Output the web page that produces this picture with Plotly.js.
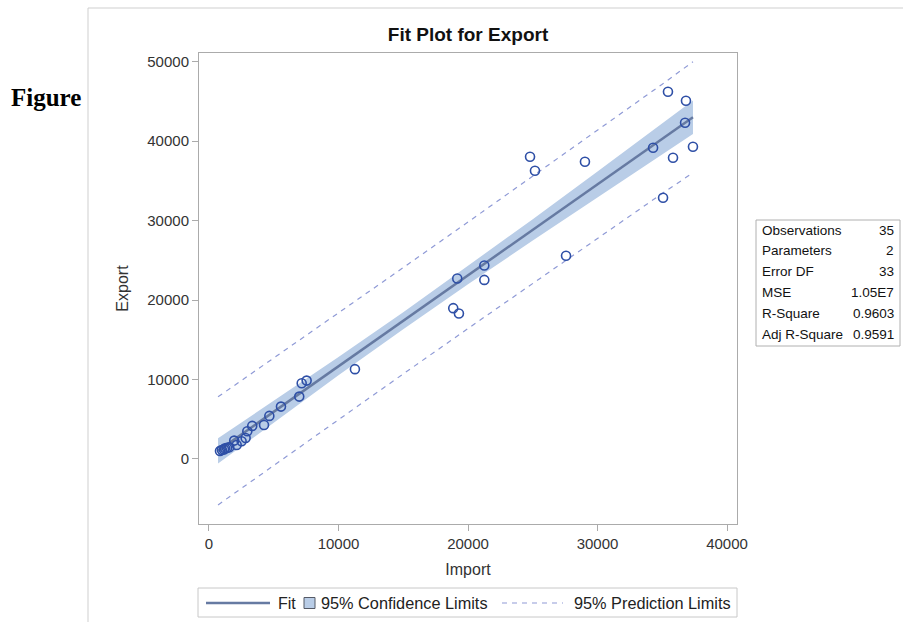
<!DOCTYPE html>
<html>
<head>
<meta charset="utf-8">
<script src="https://cdn.plot.ly/plotly-3.0.1.min.js"></script>
<style>html,body{margin:0;padding:0;background:#fff;}#chart{width:903px;height:622px;}</style>
</head>
<body>
<div id="chart"></div>
<script>
const importX = [35440, 36830, 36760, 34290, 37370, 35830, 35060, 24790, 25170, 29030, 27570, 21260, 21260, 19170, 18860, 19300,
  850, 1000, 1160, 1240, 1390, 1570, 1950, 2140, 2520, 2830, 2960, 3340, 4250, 4660, 5560, 6970, 7160, 7540, 11270];
const exportY = [46220, 45090, 42320, 39170, 39300, 37910, 32870, 38040, 36270, 37410, 25570, 24345, 22540, 22710, 18980, 18300,
  1010, 1130, 1200, 1350, 1390, 1470, 2310, 1760, 2230, 2640, 3480, 4160, 4280, 5420, 6590, 7850, 9530, 9860, 11300];

// Fit line and limits
const fitX    = [700, 5000, 10000, 15000, 20000, 25000, 30000, 35000, 37370];
const fitY    = [1016, 5940, 11670, 17390, 23120, 28840, 34570, 40300, 43010];
const clLower = [-574, 4590, 10520, 16320, 21975, 27500, 32955, 38360, 40910];
const clUpper = [2606, 7290, 12820, 18460, 24265, 30180, 36185, 42240, 45110];
const plLower = [-5784, -800, 4970, 10700, 16420, 22100, 27770, 33420, 36020];
const plUpper = [7816, 12680, 18370, 24080, 29820, 35580, 41370, 47180, 50000];

// Ticks
const xTicks = [0, 10000, 20000, 30000, 40000];
const xTickText = ["0", "10000", "20000", "30000", "40000"];
const yTicks = [0, 10000, 20000, 30000, 40000, 50000];
const yTickText = ["0", "10000", "20000", "30000", "40000", "50000"];

// Fit statistics
const statLabels = ["Observations", "Parameters", "Error DF", "MSE", "R-Square", "Adj R-Square"];
const statValues = ["35", "2", "33", "1.05E7", "0.9603", "0.9591"];

const L = 199, R = 737, T = 53, B = 524;
const px = x => (x - L) / (R - L);
const py = y => (B - y) / (B - T);

const FONT = "Liberation Sans, Arial, sans-serif";
const markerColor = "#2e4fa6";
const fitColor = "#667aa2";
const bandColor = "#b9cde7";
const predColor = "#8f9ad6";

const traces = [
  {x: fitX, y: clLower, mode: "lines", line: {width: 0, color: bandColor}, hoverinfo: "skip"},
  {x: fitX, y: clUpper, mode: "lines", line: {width: 0, color: bandColor}, fill: "tonexty", fillcolor: bandColor, hoverinfo: "skip"},
  {x: fitX, y: plLower, mode: "lines", line: {width: 1.2, color: predColor, dash: "5px,5px"}},
  {x: fitX, y: plUpper, mode: "lines", line: {width: 1.2, color: predColor, dash: "5px,5px"}},
  {x: fitX, y: fitY, mode: "lines", line: {width: 2.5, color: fitColor}},
  {x: importX, y: exportY, mode: "markers", marker: {symbol: "circle-open", size: 9, color: markerColor, line: {width: 1.6, color: markerColor}}}
];

const shapes = [];
const annotations = [];

// outer graph border
shapes.push({type: "rect", xref: "paper", yref: "paper", x0: px(88), x1: px(915), y0: py(8), y1: py(640),
  line: {color: "#cfcfcf", width: 1}, fillcolor: "rgba(0,0,0,0)", layer: "below"});

// "Figure" label
annotations.push({xref: "paper", yref: "paper", x: px(46), y: py(97), text: "<b>Figure</b>", showarrow: false,
  xanchor: "center", yanchor: "middle", font: {family: "Liberation Serif, Times New Roman, serif", size: 25, color: "#000"}});

// stats inset
const sbL = 756, sbR = 900, sbT = 220, sbB = 346;
shapes.push({type: "rect", xref: "paper", yref: "paper", x0: px(sbL), x1: px(sbR), y0: py(sbT), y1: py(sbB),
  line: {color: "#b0b0b0", width: 1}, fillcolor: "#fff"});
statLabels.forEach((lab, i) => {
  const yy = 230 + i * 20.8;
  annotations.push({xref: "paper", yref: "paper", x: px(760), y: py(yy), text: lab, showarrow: false,
    xanchor: "left", yanchor: "middle", font: {family: FONT, size: 13.5, color: "#111"}});
  annotations.push({xref: "paper", yref: "paper", x: px(896), y: py(yy), text: statValues[i], showarrow: false,
    xanchor: "right", yanchor: "middle", font: {family: FONT, size: 13.5, color: "#111"}});
});

// legend
const lgT = 588, lgB = 617, lgY = 603;
shapes.push({type: "rect", xref: "paper", yref: "paper", x0: px(198), x1: px(737), y0: py(lgT), y1: py(lgB),
  line: {color: "#c8c8c8", width: 1}, fillcolor: "#fff"});
shapes.push({type: "line", xref: "paper", yref: "paper", x0: px(206), x1: px(270), y0: py(lgY), y1: py(lgY),
  line: {color: fitColor, width: 2.5}});
annotations.push({xref: "paper", yref: "paper", x: px(276), y: py(lgY), text: "Fit", showarrow: false,
  xanchor: "left", yanchor: "middle", font: {family: FONT, size: 16, color: "#222"}});
shapes.push({type: "rect", xref: "paper", yref: "paper", x0: px(304), x1: px(315), y0: py(597.5), y1: py(608.5),
  line: {color: "#555a66", width: 1}, fillcolor: bandColor});
annotations.push({xref: "paper", yref: "paper", x: px(319), y: py(lgY), text: "95% Confidence Limits", showarrow: false,
  xanchor: "left", yanchor: "middle", font: {family: FONT, size: 16.3, color: "#222"}});
shapes.push({type: "line", xref: "paper", yref: "paper", x0: px(502), x1: px(563), y0: py(lgY), y1: py(lgY),
  line: {color: predColor, width: 1.2, dash: "5px,5px"}});
annotations.push({xref: "paper", yref: "paper", x: px(572), y: py(lgY), text: "95% Prediction Limits", showarrow: false,
  xanchor: "left", yanchor: "middle", font: {family: FONT, size: 16.3, color: "#222"}});

const axisCommon = {
  showline: true, mirror: true, linecolor: "#ababab", linewidth: 1,
  ticks: "outside", ticklen: 6, tickcolor: "#ababab", tickwidth: 1,
  showgrid: false, zeroline: false,
  tickfont: {family: FONT, size: 15, color: "#333"}
};

const layout = {
  width: 903, height: 622,
  margin: {l: L, r: 903 - R, t: T, b: 622 - B, pad: 0},
  paper_bgcolor: "#fff", plot_bgcolor: "#fff",
  showlegend: false,
  title: {text: "<b>Fit Plot for Export</b>", x: 0.5, xref: "paper", y: 1 - 34 / 622, yref: "container",
    xanchor: "center", yanchor: "middle", font: {family: FONT, size: 19, color: "#111"}},
  xaxis: Object.assign({}, axisCommon, {range: [-770, 40770], tickvals: xTicks, ticktext: xTickText,
    title: {text: "Import", standoff: 12, font: {family: FONT, size: 16, color: "#333"}}}),
  yaxis: Object.assign({}, axisCommon, {range: [-8190, 51100], tickvals: yTicks, ticktext: yTickText,
    title: {text: "Export", standoff: 14, font: {family: FONT, size: 16, color: "#333"}}}),
  shapes: shapes,
  annotations: annotations
};

Plotly.newPlot("chart", traces, layout, {displayModeBar: false, staticPlot: true});
</script>
</body>
</html>
